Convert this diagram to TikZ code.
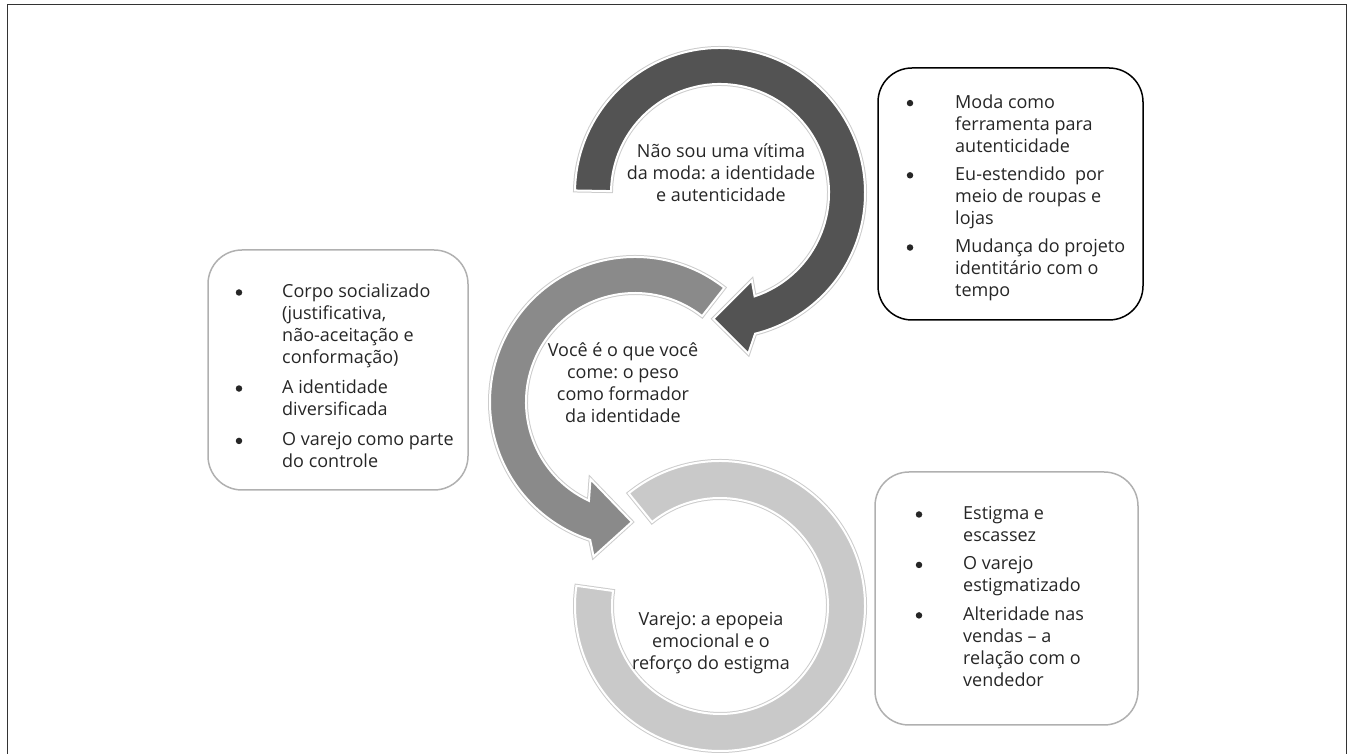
\documentclass[tikz,border=0pt]{standalone}
\usepackage{fontspec}
\setmainfont{Open Sans}
\usetikzlibrary{positioning}
\frenchspacing

\definecolor{arcdark}{HTML}{535353}
\definecolor{arcmid}{HTML}{8A8A8A}
\definecolor{arclight}{HTML}{C9C9C9}
\definecolor{boxgray}{HTML}{B0B0B0}
\newcommand{\ringlines}[1]{\begin{tabular}{@{}c@{}}#1\end{tabular}}

\begin{document}
\begin{tikzpicture}[x=1pt,y=1pt,font=\fontsize{18}{21.8}\selectfont,text=black!85]
\tikzstyle{ring}=[draw=white,line width=2pt,preaction={draw=black!20,line width=4pt}]
\tikzstyle{ringtext}=[inner sep=0pt]
\tikzstyle{box}=[rectangle,rounded corners=34pt,line width=1.5pt,inner sep=0pt]
\tikzstyle{entry}=[align=left,inner sep=0pt,anchor=north west,execute at begin node=\strut,execute at end node=\strut]
\tikzstyle{bulletdot}=[circle,fill=black!85,inner sep=0pt,minimum size=6.5pt]
\useasboundingbox (0,0) rectangle (1350,754);
\draw[line width=1pt,black!80] (7,0) -- (7,749) -- (1346,749) -- (1346,0);

% circular arrows
\begin{scope}[shift={(720,148)}]
\path[ring,fill=arclight] (129:145) arc[start angle=129,end angle=-188,radius=145]
  -- (-188:108) arc[start angle=-188,end angle=129,radius=108] -- cycle;
\end{scope}
\begin{scope}[shift={(635,352)}]
\path[ring,fill=arcmid] (52:145) arc[start angle=52,end angle=252,radius=145]
  -- (255:160) -- (268.5:120) -- (240:89) -- (245:109)
  arc[start angle=245,end angle=52,radius=109] -- cycle;
\end{scope}
\begin{scope}[shift={(720,561)}]
\path[ring,fill=arcdark] (179:145) arc[start angle=179,end angle=-76,radius=145]
  -- (-80:163) -- (-93:126) -- (-70:93) -- (-71.5:109)
  arc[start angle=-71.5,end angle=179,radius=109] -- cycle;
\end{scope}

\node[ringtext] (moda)   at (721,579) {\ringlines{Não sou uma vítima\\da moda: a identidade\\e autenticidade}};
\node[ringtext] (peso)   at (623,369) {\ringlines{Você é o que você\\come: o peso\\como formador\\da identidade}};
\node[ringtext] (varejo) at (711,111) {\ringlines{Varejo: a epopeia\\emocional e o\\reforço do estigma}};

% boxes
\node[box,draw=black,minimum width=265pt,minimum height=252pt]  (autbox)  at (1010.5,560) {};
\node[box,draw=boxgray,minimum width=260pt,minimum height=240pt] (pesobox) at (338,384) {};
\node[box,draw=boxgray,minimum width=263pt,minimum height=253pt] (estbox)  at (1006.5,155.5) {};

\node[entry] (aut1) at (955,659.4) {Moda como\\ferramenta para\\autenticidade};
\node[entry] (aut2) [below=8pt of aut1.south west,anchor=north west] {Eu-estendido\ \ por\\meio de roupas e\\lojas};
\node[entry] (aut3) [below=8pt of aut2.south west,anchor=north west] {Mudança do projeto\\identitário com o\\tempo};

\node[entry] (peso1) at (282,470) {Corpo socializado\\(justificativa,\\não-aceitação e\\conformação)};
\node[entry] (peso2) [below=10pt of peso1.south west,anchor=north west] {A identidade\\diversificada};
\node[entry] (peso3) [below=10pt of peso2.south west,anchor=north west] {O varejo como parte\\do controle};

\node[entry] (est1) at (963,248) {Estigma e\\escassez};
\node[entry] (est2) [below=8.5pt of est1.south west,anchor=north west] {O varejo\\estigmatizado};
\node[entry] (est3) [below=8.5pt of est2.south west,anchor=north west] {Alteridade nas\\vendas – a\\relação com o\\vendedor};

\foreach \n in {aut1,aut2,aut3}
  \node[bulletdot] at ([xshift=-45pt,yshift=-8.5pt]\n.north west) {};
\foreach \n in {peso1,peso2,peso3}
  \node[bulletdot] at ([xshift=-43pt,yshift=-8.5pt]\n.north west) {};
\foreach \n in {est1,est2,est3}
  \node[bulletdot] at ([xshift=-44pt,yshift=-8.5pt]\n.north west) {};
\end{tikzpicture}
\end{document}
